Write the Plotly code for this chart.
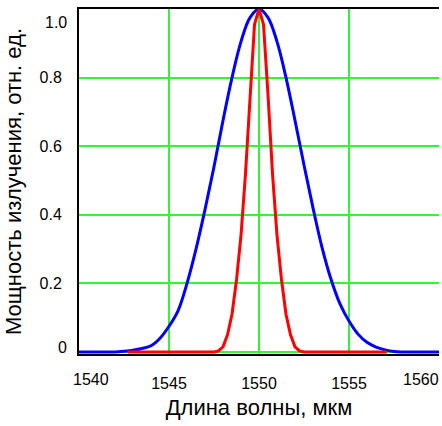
import plotly.graph_objects as go

# wavelength grid and relative power
blue_x = [1540.0, 1540.5, 1541.0, 1541.5, 1542.0, 1542.5, 1543.0, 1543.5, 1544.0, 1544.5,
          1545.0, 1545.5, 1546.0, 1546.5, 1547.0, 1547.5, 1548.0, 1548.5, 1549.0, 1549.5,
          1550.0, 1550.5, 1551.0, 1551.5, 1552.0, 1552.5, 1553.0, 1553.5, 1554.0, 1554.5,
          1555.0, 1555.5, 1556.0, 1556.5, 1557.0, 1557.5, 1558.0, 1558.5, 1559.0, 1559.5,
          1560.0]
blue_y = [0, 0, 0, 0, 0, 0.002, 0.005, 0.01, 0.018, 0.04,
          0.075, 0.12, 0.2, 0.3, 0.415, 0.54, 0.675, 0.8, 0.905, 0.975,
          1.0, 0.975, 0.905, 0.8, 0.675, 0.545, 0.42, 0.305, 0.212, 0.14,
          0.09, 0.052, 0.028, 0.014, 0.006, 0.001, 0, 0, 0, 0,
          0]

red_x = [1542.7, 1547.5, 1547.75, 1548.0, 1548.25, 1548.5, 1548.75, 1549.0, 1549.25, 1549.5,
         1549.75, 1550.0, 1550.25, 1550.5, 1550.75, 1551.0, 1551.25, 1551.5, 1551.75, 1552.0,
         1552.25, 1552.5, 1557.1]
red_y = [0, 0, 0.003, 0.015, 0.05, 0.11, 0.21, 0.34, 0.52, 0.75,
         0.955, 1.0, 0.955, 0.75, 0.52, 0.34, 0.21, 0.11, 0.05, 0.015,
         0.003, 0, 0]

x_ticks = [1540, 1545, 1550, 1555, 1560]
x_tick_text = ["1540", "1545", "1550", "1555", "1560"]
y_ticks = [0, 0.2, 0.4, 0.6, 0.8, 1.0]
y_tick_text = ["0", "0.2", "0.4", "0.6", "0.8", "1.0"]

FONT = "Arial, Liberation Sans, sans-serif"
GRID = "#33F533"
TICK_SIZE = 16

fig = go.Figure()
fig.add_trace(go.Scatter(x=blue_x, y=blue_y, mode="lines", line_shape="spline",
                         line=dict(color="#0000FF", width=3)))
fig.add_trace(go.Scatter(x=red_x, y=red_y, mode="lines",
                         line=dict(color="#FF0000", width=3)))

# end labels sit inside the frame in the original, so they go in as annotations
inner_x = ["", *x_tick_text[1:-1], ""]
inner_y = ["", *y_tick_text[1:-1], ""]
ends = [
    dict(x=-0.02, y=0, xanchor="left", yanchor="top", yshift=-16, text=x_tick_text[0]),
    dict(x=1.004, y=0, xanchor="right", yanchor="top", yshift=-16, text=x_tick_text[-1]),
    dict(x=-0.03, y=0.96, xanchor="right", yanchor="middle", text=y_tick_text[-1]),
    dict(x=-0.03, y=0.018, xanchor="right", yanchor="middle", text=y_tick_text[0]),
]
for a in ends:
    fig.add_annotation(xref="paper", yref="paper", showarrow=False,
                       font=dict(family=FONT, size=TICK_SIZE), borderpad=0, **a)

fig.update_layout(
    width=442, height=426,
    margin=dict(l=79, r=3, t=9, b=72),
    paper_bgcolor="white", plot_bgcolor="white",
    showlegend=False,
    font=dict(family=FONT, size=TICK_SIZE, color="black"),
)
fig.update_xaxes(
    range=[1540, 1560], tickvals=x_ticks, ticktext=inner_x, ticks="",
    ticklabelstandoff=14, automargin=False,
    showgrid=True, gridcolor=GRID, gridwidth=2, zeroline=False,
    showline=True, linecolor="black", linewidth=2, mirror=True,
    title=dict(text="Длина волны, мкм", font=dict(size=22), standoff=8),
)
fig.update_yaxes(
    range=[-0.006, 1.0], tickvals=y_ticks, ticktext=inner_y, ticks="",
    ticklabelstandoff=12, automargin=False,
    showgrid=True, gridcolor=GRID, gridwidth=2, zeroline=False,
    showline=True, linecolor="black", linewidth=2,
    title=dict(text="Мощность излучения, отн. ед.", font=dict(size=22), standoff=12),
)

# drop the browser's default body margin so the figure sits at the page corner
fig.write_html("out.html", config={"displayModeBar": False},
               post_script="document.body.style.margin='0';")
